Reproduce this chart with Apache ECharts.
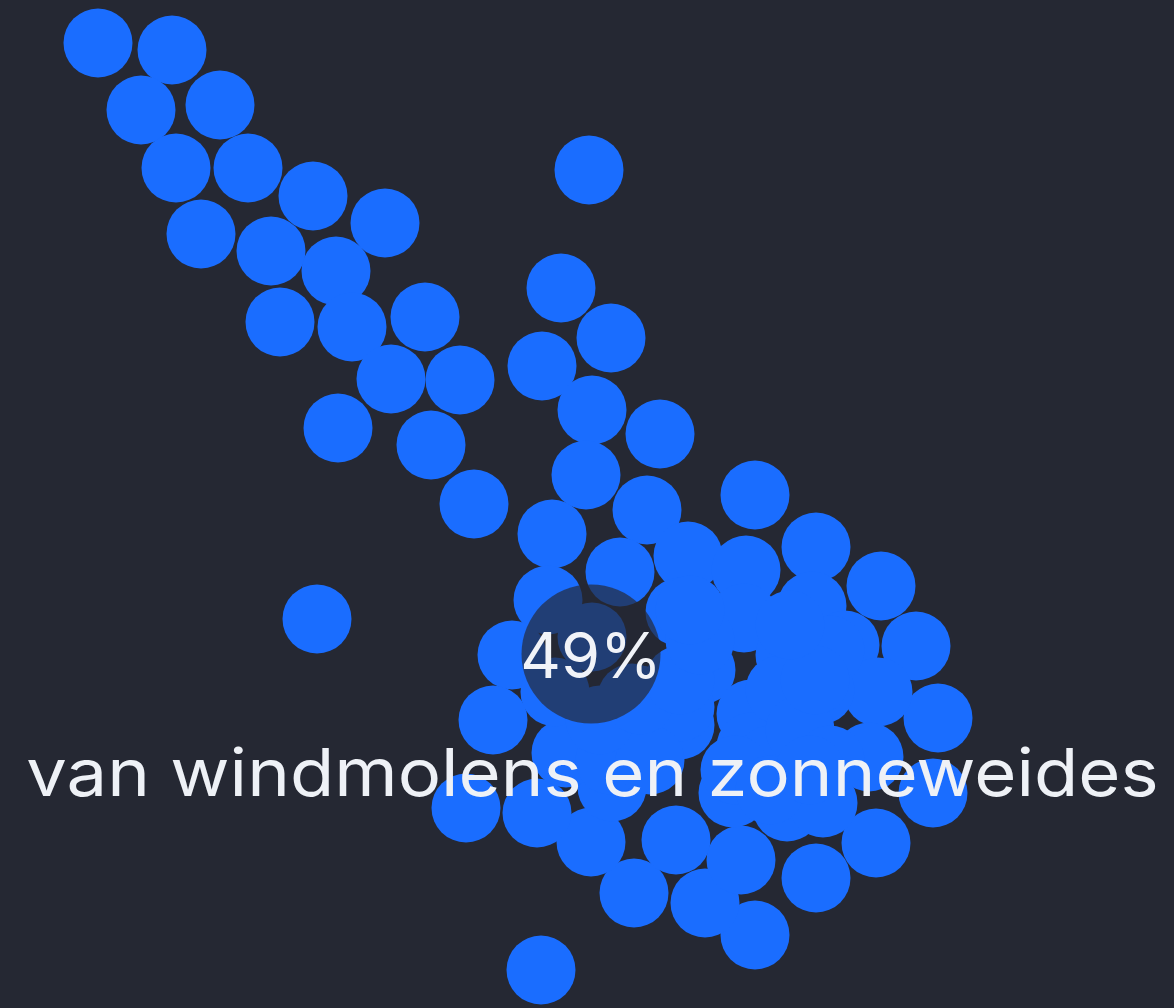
<!DOCTYPE html>
<html><head><meta charset="utf-8">
<style>html,body{margin:0;padding:0;background:#252833}#c{width:1174px;height:1008px;filter:blur(0.6px)}</style>
<script src="https://cdn.jsdelivr.net/npm/echarts@6/dist/echarts.min.js"></script>
</head><body><div id="c"></div>
<script>
const xValues = [98,172,141,220,176,248,201,271,313,385,336,280,352,425,391,460,338,431,474,589,561,611,542,592,660,586,647,552,755,816,881,916,938,620,688,746,548,317,680,744,812,845,790,878,512,701,493,751,801,869,751,801,933,876,816,755,705,634,676,741,591,537,466,541,612,566,680,644,680,733,787,823,592,555,632,809,830,
  610,650,600,640,680,780,820,770,800,830,735,770,810,815,790,700,690];
const yValues = [43,50,110,105,168,168,234,251,196,223,271,322,327,317,379,380,428,445,504,170,288,338,366,410,434,475,510,534,495,547,586,646,718,572,556,570,600,619,612,618,606,645,655,692,655,670,720,714,705,757,747,753,793,843,878,935,903,893,840,860,842,813,808,970,787,753,725,720,707,793,807,803,637,692,698,653,650,
  760,760,720,700,680,690,690,760,730,760,770,790,770,680,625,640,610];
const highlightX = [591];
const highlightY = [654];
const shareLabel = '49%';
const captionLabel = 'van windmolens en zonneweides';

const chart = echarts.init(document.getElementById('c'), null, {renderer:'canvas'});
chart.setOption({
  backgroundColor:'#252833',
  animation:false,
  grid:{left:0,right:0,top:0,bottom:0},
  xAxis:{type:'value',min:0,max:1174,show:false},
  yAxis:{type:'value',min:0,max:1008,inverse:true,show:false},
  series:[
    {type:'scatter',symbolSize:69,itemStyle:{color:'#1a6dff',opacity:1,borderWidth:0},silent:true,
     data:xValues.map((x,i)=>[x,yValues[i]])},
    {type:'scatter',symbolSize:139,itemStyle:{color:'rgba(37,40,51,0.68)',opacity:1,borderWidth:0},silent:true,z:3,
     data:highlightX.map((x,i)=>[x,highlightY[i]]),
     label:{show:true,position:'inside',formatter:shareLabel,color:'#f1f3f8',fontFamily:'Inter',fontSize:63,fontWeight:400,
       offset:[0,5]}}
  ],
  graphic:[{type:'text',x:592.5,y:776,scaleX:1.097,z:10,
    style:{text:captionLabel,fill:'#eef1f6',font:'400 66px Inter',textAlign:'center',textVerticalAlign:'middle',textBaseline:'middle'}}]
});
</script></body></html>
